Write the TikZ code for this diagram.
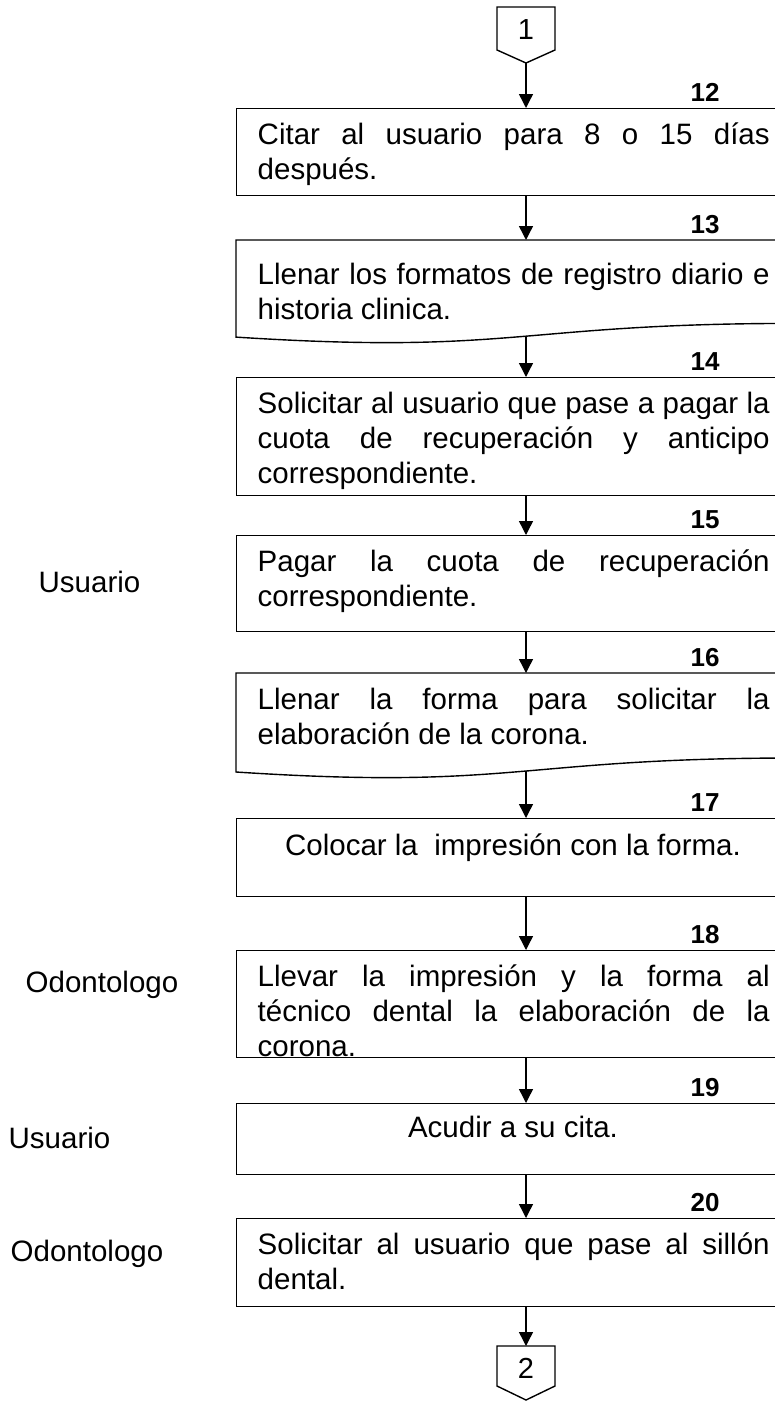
\documentclass[tikz,border=0pt]{standalone}
\usepackage{fontspec}
\setmainfont{Liberation Sans}
\usetikzlibrary{arrows.meta}
\tolerance=10000
\hyphenpenalty=10000
\begin{document}
\begin{tikzpicture}[x=1pt,y=-1pt,line width=1.4pt,
  arr/.style={-{Triangle[length=14pt,width=14pt]}},
  box/.style={draw,rectangle,minimum width=560pt,anchor=north west,inner sep=0pt},
  txt/.style={anchor=base west,text width=512pt,align=justify,inner sep=0pt,font=\fontsize{29.5}{35}\selectfont},
  ctxt/.style={anchor=base,inner sep=0pt,font=\fontsize{29.5}{35}\selectfont},
  num/.style={anchor=base,inner sep=0pt,font=\fontsize{26}{30}\selectfont\bfseries},
  side/.style={anchor=west,inner sep=0pt,font=\fontsize{29.5}{35}\selectfont},
  cnum/.style={inner sep=0pt,font=\fontsize{29}{34}\selectfont}]
\useasboundingbox (0,0) rectangle (775,1403);
\clip (0,0) rectangle (775,1403);

% off-page connector 1
\draw (497,7) -- (555,7) -- (555,50) -- (526,63) -- (497,50) -- cycle;
\node[cnum] (n1) at (526,30) {1};
\coordinate (c1) at (526,63);

% box 12
\node[box,minimum height=87pt] (b12) at (236,108) {};
\node[txt] (t12) at (257,144) {Citar al usuario para 8 o 15 días\linebreak después.};
\node[num] (l12) at (705,101) {12};

% box 13 (document)
\draw (236,240) -- (796,240) -- (796,323.4) .. controls (516,323.4) and (516,355.1) .. (236,337.1) -- cycle;
\coordinate (b13) at (526,240);
\coordinate (w13) at (526,336.3);
\node[txt] (t13) at (257,284) {Llenar los formatos de registro diario e\linebreak historia clinica.};
\node[num] (l13) at (705,233) {13};

% box 14
\node[box,minimum height=118pt] (b14) at (236,377) {};
\node[txt] (t14) at (257,413) {Solicitar al usuario que pase a pagar la\linebreak cuota de recuperación y anticipo\linebreak correspondiente.};
\node[num] (l14) at (705,370) {14};

% box 15
\node[box,minimum height=96pt] (b15) at (236,535) {};
\node[txt] (t15) at (257,571) {Pagar la cuota de recuperación\linebreak correspondiente.};
\node[num] (l15) at (705,528) {15};
\node[side] (u1) at (38,582) {Usuario};

% box 16 (document)
\draw (236,673) -- (796,673) -- (796,758) .. controls (516,758) and (516,790.3) .. (236,772) -- cycle;
\coordinate (b16) at (526,673);
\coordinate (w16) at (526,771.1);
\node[txt] (t16) at (257,709) {Llenar la forma para solicitar la\linebreak elaboración de la corona.};
\node[num] (l16) at (705,666) {16};

% box 17
\node[box,minimum height=78pt] (b17) at (236,818) {};
\node[ctxt] (t17) at (513,855) {Colocar la\ \ impresión con la forma.};
\node[num] (l17) at (705,811) {17};

% box 18
\node[box,minimum height=107pt] (b18) at (236,950) {};
\begin{scope}
\clip (236,950) rectangle (796,1057);
\node[txt] (t18) at (257,986) {Llevar la impresión y la forma al\linebreak técnico dental la elaboración de la\linebreak corona.};
\end{scope}
\node[num] (l18) at (705,943) {18};
\node[side] (o1) at (25,985) {Odontologo};

% box 19
\node[box,minimum height=71pt] (b19) at (236,1103) {};
\node[ctxt] (t19) at (513,1137) {Acudir a su cita.};
\node[num] (l19) at (705,1096) {19};
\node[side] (u2) at (8,1138) {Usuario};

% box 20
\node[box,minimum height=88pt] (b20) at (236,1218) {};
\node[txt] (t20) at (257,1254) {Solicitar al usuario que pase al sillón\linebreak dental.};
\node[num] (l20) at (705,1211) {20};
\node[side] (o2) at (10,1254) {Odontologo};

% off-page connector 2
\draw (497,1346) -- (555,1346) -- (555,1386) -- (526,1400) -- (497,1386) -- cycle;
\node[cnum] (n2) at (526,1368) {2};
\coordinate (c2) at (526,1346);

% connectors
\draw[arr] (c1) -- (c1 |- b12.north);
\draw[arr] (b12.south -| c1) -- (b13);
\draw[arr] (w13) -- (w13 |- b14.north);
\draw[arr] (b14.south -| c1) -- (c1 |- b15.north);
\draw[arr] (b15.south -| c1) -- (b16);
\draw[arr] (w16) -- (w16 |- b17.north);
\draw[arr] (b17.south -| c1) -- (c1 |- b18.north);
\draw[arr] (b18.south -| c1) -- (c1 |- b19.north);
\draw[arr] (b19.south -| c1) -- (c1 |- b20.north);
\draw[arr] (b20.south -| c1) -- (c2);
\end{tikzpicture}
\end{document}
